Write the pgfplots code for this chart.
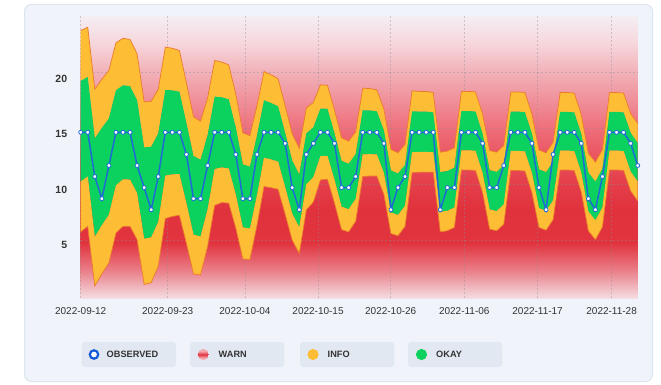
\documentclass[border=0pt]{standalone}
\usepackage{pgfplots}
\pgfplotsset{compat=1.18}
\usepackage{pgfplotstable}
\usepackage{fontspec}
\setmainfont{Liberation Sans}

\definecolor{cardbg}{HTML}{F0F4FA}
\definecolor{cardborder}{HTML}{DDE5F0}
\definecolor{legbg}{HTML}{E2E8F1}
\definecolor{warnred}{HTML}{E0323D}
\definecolor{infoy}{HTML}{FDBE36}
\definecolor{infoedge}{HTML}{EC7A2C}
\definecolor{okayg}{HTML}{0BD25F}
\definecolor{obsblue}{HTML}{1E6AD6}
\definecolor{legblue}{HTML}{1558D6}
\definecolor{txt}{HTML}{333333}
\definecolor{warnicon}{HTML}{F3A9B0}
\definecolor{wA}{HTML}{F4DDE2}
\definecolor{wB}{HTML}{EA7F89}
\definecolor{wC}{HTML}{E1343F}
\definecolor{wD}{HTML}{E0323D}
\definecolor{wE}{HTML}{E5424E}
\definecolor{wF}{HTML}{EE6A76}
\definecolor{wG}{HTML}{F1B0B8}
\definecolor{wH}{HTML}{F6D6DB}
\definecolor{wI}{HTML}{F4EEF3}

% TikZ maps 25bp..75bp of a custom shading onto the path (value 0..25.5)
\pgfdeclareverticalshading{warnshade}{100bp}{color(0bp)=(wA); color(25bp)=(wA); color(29.9bp)=(wB); color(34.8bp)=(wC); color(40.7bp)=(wD); color(46.6bp)=(wE); color(54.4bp)=(wF); color(65bp)=(wG); color(70.1bp)=(wH); color(75bp)=(wI); color(100bp)=(wI)}
\pgfdeclareverticalshading{warnicon}{100bp}{color(0bp)=(warnicon); color(35bp)=(warnicon); color(50bp)=(warnred); color(65bp)=(warnicon); color(100bp)=(warnicon)}

\pgfplotstableread{
i ilo olo ohi ihi h w obs
0 6.00 10.55 19.65 24.20 4.55 9.1 15
1 6.50 11.00 20.00 24.50 4.5 9.0 15
2 1.10 5.55 14.45 18.90 4.45 8.9 11
3 2.20 6.60 15.40 19.80 4.4 8.8 9
4 3.20 7.55 16.25 20.60 4.35 8.7 12
5 5.90 10.20 18.80 23.10 4.3 8.6 15
6 6.50 10.75 19.25 23.50 4.25 8.5 15
7 6.50 10.73 19.18 23.40 4.225 8.45 15
8 5.30 9.50 17.90 22.10 4.2 8.4 12
9 1.25 5.38 13.63 17.75 4.125 8.25 10
10 1.40 5.50 13.70 17.80 4.1 8.2 8
11 2.90 6.90 14.90 18.90 4.0 8.0 11
12 7.20 11.08 18.83 22.70 3.875 7.75 15
13 7.40 11.20 18.80 22.60 3.8 7.6 15
14 7.50 11.23 18.68 22.40 3.725 7.45 15
15 4.95 8.58 15.83 19.45 3.625 7.25 13
16 2.20 5.75 12.85 16.40 3.55 7.1 9
17 2.10 5.58 12.53 16.00 3.475 6.95 9
18 4.70 8.05 14.75 18.10 3.35 6.7 12
19 8.40 11.68 18.23 21.50 3.275 6.55 15
20 8.65 11.83 18.18 21.35 3.175 6.35 15
21 8.60 11.73 17.98 21.10 3.125 6.25 15
22 6.35 9.38 15.43 18.45 3.025 6.05 13
23 3.55 6.40 12.10 14.95 2.85 5.7 9
24 3.50 6.30 11.90 14.70 2.8 5.6 9
25 6.60 9.30 14.70 17.40 2.7 5.4 13
26 10.10 12.70 17.90 20.50 2.6 5.2 15
27 10.00 12.55 17.65 20.20 2.55 5.1 15
28 9.85 12.35 17.35 19.85 2.5 5.0 15
29 7.60 10.05 14.95 17.40 2.45 4.9 14
30 5.25 7.65 12.45 14.85 2.4 4.8 10
31 4.05 6.43 11.18 13.55 2.375 4.75 8
32 8.00 10.30 14.90 17.20 2.3 4.6 13
33 8.70 10.95 15.45 17.70 2.25 4.5 14
34 10.70 12.85 17.15 19.30 2.15 4.3 15
35 10.75 12.88 17.13 19.25 2.125 4.25 15
36 8.60 10.70 14.90 17.00 2.1 4.2 14
37 6.20 8.28 12.43 14.50 2.075 4.15 10
38 6.00 8.05 12.15 14.20 2.05 4.1 10
39 6.95 8.98 13.03 15.05 2.025 4.05 11
40 11.00 13.00 17.00 19.00 2.0 4.0 15
41 11.05 13.03 16.98 18.95 1.975 3.95 15
42 11.05 13.00 16.90 18.85 1.95 3.9 15
43 9.40 11.33 15.18 17.10 1.925 3.85 14
44 5.85 7.75 11.55 13.45 1.9 3.8 8
45 5.65 7.53 11.28 13.15 1.875 3.75 10
46 6.50 8.35 12.05 13.90 1.85 3.7 11
47 11.35 13.20 16.90 18.75 1.85 3.7 15
48 11.40 13.23 16.88 18.70 1.825 3.65 15
49 11.40 13.23 16.88 18.70 1.825 3.65 15
50 11.40 13.20 16.80 18.60 1.8 3.6 15
51 6.00 7.80 11.40 13.20 1.8 3.6 8
52 6.10 7.90 11.50 13.30 1.8 3.6 10
53 6.40 8.20 11.80 13.60 1.8 3.6 10
54 11.60 13.38 16.93 18.70 1.775 3.55 15
55 11.60 13.38 16.93 18.70 1.775 3.55 15
56 11.55 13.33 16.88 18.65 1.775 3.55 15
57 9.55 11.33 14.88 16.65 1.775 3.55 14
58 6.25 8.03 11.58 13.35 1.775 3.55 10
59 6.10 7.88 11.43 13.20 1.775 3.55 10
60 6.70 8.48 12.03 13.80 1.775 3.55 12
61 11.55 13.33 16.88 18.65 1.775 3.55 15
62 11.55 13.33 16.88 18.65 1.775 3.55 15
63 11.50 13.28 16.83 18.60 1.775 3.55 15
64 9.55 11.33 14.88 16.65 1.775 3.55 14
65 6.40 8.15 11.65 13.40 1.75 3.5 10
66 6.15 7.90 11.40 13.15 1.75 3.5 8
67 7.10 8.85 12.35 14.10 1.75 3.5 13
68 11.60 13.35 16.85 18.60 1.75 3.5 15
69 11.60 13.35 16.85 18.60 1.75 3.5 15
70 11.55 13.30 16.80 18.55 1.75 3.5 15
71 9.60 11.35 14.85 16.60 1.75 3.5 14
72 6.10 7.85 11.35 13.10 1.75 3.5 9
73 5.30 7.05 10.55 12.30 1.75 3.5 8
74 6.45 8.20 11.70 13.45 1.75 3.5 11
75 11.60 13.35 16.85 18.60 1.75 3.5 15
76 11.60 13.35 16.85 18.60 1.75 3.5 15
77 11.55 13.30 16.80 18.55 1.75 3.5 15
78 9.70 11.45 14.95 16.70 1.75 3.5 14
79 8.80 10.55 14.05 15.80 1.75 3.5 12
}\data

\pgfplotsset{frame/.style={
  at={(80.7pt,85.8pt)}, anchor=south west, scale only axis,
  width=557pt, height=282pt,
  xmin=0, xmax=79, ymin=0, ymax=25.5}}

\begin{document}
\begin{tikzpicture}
\fill[white] (0pt,0pt) rectangle (661pt,384pt);
\filldraw[fill=cardbg, draw=cardborder, line width=1pt, rounded corners=7pt] (24.5pt,2.5pt) rectangle (652.5pt,379.5pt);

% bands: WARN background, INFO and OKAY as stacked areas
\begin{axis}[
  frame,
  stack plots=y,
  axis background/.style={shading=warnshade},
  axis line style={draw=none},
  major tick length=0pt,
  xtick={0,12.34,23.3,33.66,43.97,54.4,64.8,75.3},
  xticklabels={2022-09-12,2022-09-23,2022-10-04,2022-10-15,2022-10-26,2022-11-06,2022-11-17,2022-11-28},
  ytick={5,10,15,20},
  yticklabels={5,10,15,20},
  extra y ticks={5.26,10.3,15.34,20.39},
  extra y tick labels={},
  extra y tick style={grid=major, major tick length=0pt},
  xmajorgrids,
  grid style={black!45, opacity=0.4, line width=0.6pt, dash pattern=on 2pt off 2pt},
  /pgf/number format/assume math mode=true,
  xticklabel style={font=\fontsize{10}{12}\selectfont, text=txt, yshift=-6pt},
  yticklabel style={font=\bfseries\fontsize{10.5}{12}\selectfont, text=txt, xshift=-10pt, yshift=-2pt},
]
\addplot[draw=none] table[x=i,y=ilo]{\data};
\addplot[fill=infoy, draw=none] table[x=i,y=h]{\data} \closedcycle;
\addplot[fill=okayg, draw=none] table[x=i,y=w]{\data} \closedcycle;
\addplot[fill=infoy, draw=none] table[x=i,y=h]{\data} \closedcycle;
\end{axis}

% INFO edges and OBSERVED
\begin{axis}[frame, hide axis, clip=false]
\addplot[infoedge, line width=0.7pt] table[x=i,y=ihi]{\data};
\addplot[infoedge, line width=0.7pt] table[x=i,y=ilo]{\data};
\addplot[obsblue, line width=1.5pt, mark=*, mark size=2pt,
  mark options={fill=white, draw=obsblue, line width=0.8pt, solid}] table[x=i,y=obs]{\data};
\end{axis}

% Legend
\fill[legbg, rounded corners=3pt] (81.7pt,17pt) rectangle (176pt,42pt);
\filldraw[draw=legblue, fill=white, line width=2.2pt] (94pt,29.5pt) circle (4.2pt);
\node[anchor=west, inner sep=0pt, text=txt, font=\bfseries\fontsize{9.2}{10}\selectfont] at (106.5pt,29.5pt) {OBSERVED};

\fill[legbg, rounded corners=3pt] (190pt,17pt) rectangle (284.3pt,42pt);
\shade[shading=warnicon] (203.3pt,29.5pt) circle (5.6pt);
\node[anchor=west, inner sep=0pt, text=txt, font=\bfseries\fontsize{9.2}{10}\selectfont] at (218.5pt,29.5pt) {WARN};

\fill[legbg, rounded corners=3pt] (300pt,17pt) rectangle (394.3pt,42pt);
\fill[infoy] (313pt,29.5pt) circle (5.6pt);
\node[anchor=west, inner sep=0pt, text=txt, font=\bfseries\fontsize{9.2}{10}\selectfont] at (327.5pt,29.5pt) {INFO};

\fill[legbg, rounded corners=3pt] (408pt,17pt) rectangle (502.3pt,42pt);
\fill[okayg] (421.5pt,29.5pt) circle (5.6pt);
\node[anchor=west, inner sep=0pt, text=txt, font=\bfseries\fontsize{9.2}{10}\selectfont] at (436pt,29.5pt) {OKAY};
\end{tikzpicture}
\end{document}
